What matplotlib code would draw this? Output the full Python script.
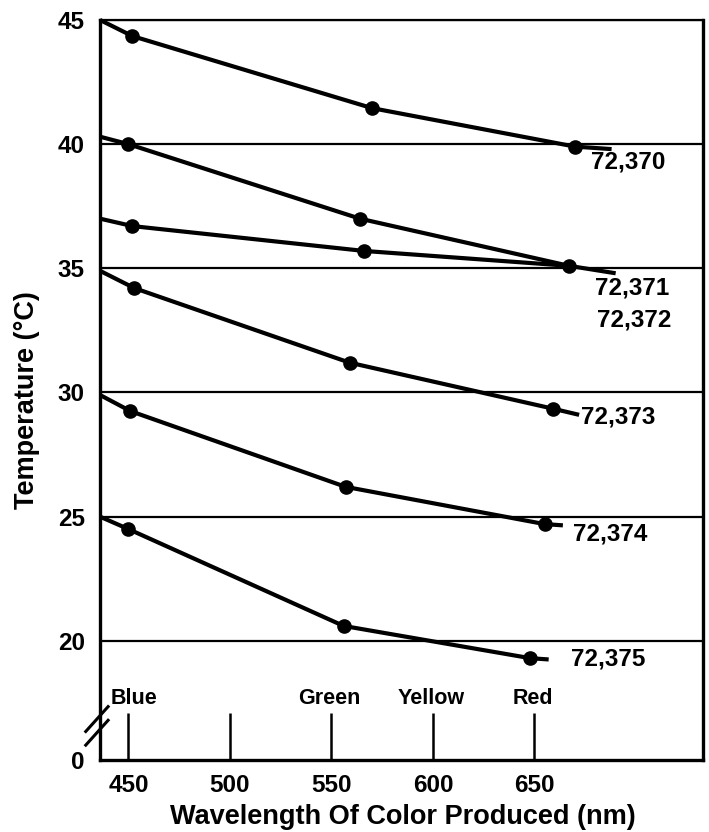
import matplotlib
matplotlib.use("Agg")
import matplotlib.pyplot as plt

plt.rcParams['font.family'] = ['Liberation Sans', 'DejaVu Sans']
plt.rcParams['font.weight'] = 'bold'

# ---- data ----
series_names = ["72,370", "72,371", "72,372", "72,373", "72,374", "72,375"]
# wavelength (nm) of each plotted point, first = left axis start, last = line end
wl_370 = [436, 452, 570, 670, 688]
t_370 = [45.0, 44.35, 41.45, 39.9, 39.8]
wl_371 = [436, 450, 564, 667, 690]
t_371 = [40.3, 40.0, 37.0, 35.1, 34.8]
wl_372 = [436, 452, 566, 667]
t_372 = [37.0, 36.7, 35.7, 35.1]
wl_373 = [436, 453, 559, 659, 672]
t_373 = [34.9, 34.2, 31.2, 29.35, 29.1]
wl_374 = [436, 451, 557, 655, 664]
t_374 = [29.9, 29.25, 26.2, 24.7, 24.65]
wl_375 = [436, 450, 556, 648, 657]
t_375 = [25.0, 24.5, 20.6, 19.3, 19.25]
# which indices carry a dot marker
dots_370 = [1, 2, 3]
dots_371 = [1, 2, 3]
dots_372 = [1, 2]
dots_373 = [1, 2, 3]
dots_374 = [1, 2, 3]
dots_375 = [1, 2, 3]

x_ticks = [450, 500, 550, 600, 650]
y_ticks = [20, 25, 30, 35, 40, 45]
color_names = ["Blue", "Green", "Yellow", "Red"]
color_wl = [450, 550, 600, 650]
label_pos_wl = [678, 680, 681, 673, 669, 668]
label_pos_t = [39.3, 34.2, 32.9, 29.0, 24.3, 19.25]

fig = plt.figure(figsize=(7.09, 8.32), dpi=100)
ax = fig.add_axes([0.141, 0.0865, 0.8505, 0.8895])

x0, x1 = 436, 733
ybot = 15.2
ax.set_xlim(x0, x1)
ax.set_ylim(ybot, 45)

for y in y_ticks:
    ax.axhline(y, color='black', lw=1.6, zorder=1)

all_series = [
    (wl_370, t_370, dots_370), (wl_371, t_371, dots_371), (wl_372, t_372, dots_372),
    (wl_373, t_373, dots_373), (wl_374, t_374, dots_374), (wl_375, t_375, dots_375),
]
for (wl, t, dots) in all_series:
    ax.plot(wl, t, color='black', lw=3.0, solid_capstyle='butt', zorder=3, clip_on=False)
    ax.plot([wl[i] for i in dots], [t[i] for i in dots], 'o', color='black',
            ms=9.5, zorder=4, clip_on=False)

for name, lx, ly in zip(series_names, label_pos_wl, label_pos_t):
    ax.text(lx, ly, name, fontsize=17.5, fontweight='bold', ha='left', va='center')

# ticks
ax.set_xticks(x_ticks)
ax.set_xticklabels([str(v) for v in x_ticks], fontsize=17.5, fontweight='bold')
ax.tick_params(axis='x', direction='in', length=34, width=1.8, pad=10)
ax.set_yticks(y_ticks + [ybot])
ax.set_yticklabels([str(v) for v in y_ticks] + ["0"], fontsize=17.5, fontweight='bold')
ax.tick_params(axis='y', length=0, pad=11)

for s in ax.spines.values():
    s.set_linewidth(2.4)
ax.spines['top'].set_linewidth(1.6)

for name, w in zip(color_names, color_wl):
    ax.text(w + (3 if name == "Blue" else -1), ybot + 2.05, name, fontsize=15.5, fontweight='bold',
            ha='center', va='bottom')

# axis break mark
for dy in (0.0, 0.55):
    ax.plot([x0 - 7, x0 + 4], [ybot + 0.6 + dy, ybot + 1.6 + dy], color='black',
            lw=2.2, clip_on=False, zorder=5)

ax.set_xlabel("Wavelength Of Color Produced (nm)", fontsize=19.5, fontweight='bold')
ax.xaxis.set_label_coords(0.502, -0.06)
ax.set_ylabel("Temperature (°C)", fontsize=19.5, fontweight='bold')
ax.yaxis.set_label_coords(-0.099, 0.486)

fig.savefig("out.png", dpi=100)
